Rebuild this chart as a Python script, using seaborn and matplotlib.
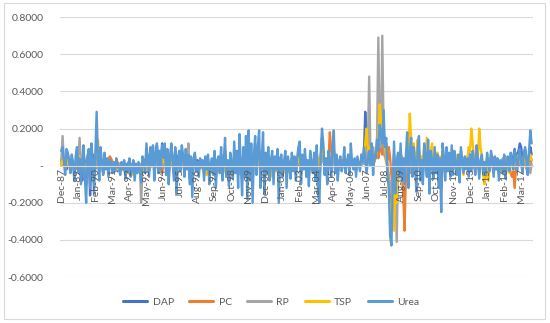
import numpy as np
import pandas as pd
import seaborn as sns
import matplotlib.pyplot as plt
from matplotlib.patches import Rectangle

# monthly changes, Dec-87 .. Nov-17 (one row = 12 months, Dec..Nov)
dap = [
    0.03, 0.05, 0.02, 0.04, -0.02, 0.06, 0.03, -0.03, 0.04, 0.02, -0.05, 0.01,
    0.05, 0.02, -0.04, 0.03, -0.08, 0.06, 0.02, -0.10, 0.04, 0.08, -0.16, 0.03,
    0.06, -0.05, 0.02, 0.10, 0.05, -0.03, 0.04, 0.01, -0.04, 0.03, 0.00, 0.02,
    -0.02, 0.01, 0.03, -0.02, 0.01, 0.00, 0.02, -0.03, 0.01, -0.02, 0.00, 0.01,
    0.02, -0.03, 0.00, 0.01, 0.03, -0.02, 0.00, 0.02, -0.04, 0.01, -0.02, 0.01,
    -0.01, -0.05, 0.02, 0.03, -0.02, 0.08, 0.05, -0.03, 0.07, 0.02, 0.10, -0.04,
    0.05, 0.11, 0.02, 0.07, 0.01, 0.12, 0.03, 0.10, -0.02, 0.06, -0.05, 0.03,
    0.10, 0.04, -0.04, 0.08, -0.08, 0.05, 0.06, -0.02, 0.09, 0.03, -0.03, 0.06,
    0.01, 0.04, -0.06, 0.03, -0.09, 0.02, 0.05, -0.01, 0.03, -0.03, 0.02, 0.00,
    0.02, -0.04, 0.03, 0.00, 0.04, -0.05, 0.01, 0.02, -0.03, 0.05, -0.06, 0.02,
    0.03, -0.02, 0.06, -0.04, 0.01, 0.08, -0.03, 0.02, -0.06, 0.04, 0.01, -0.03,
    0.06, -0.02, 0.04, -0.05, 0.08, 0.01, -0.07, 0.05, -0.03, 0.07, -0.08, 0.09,
    -0.03, 0.06, -0.09, 0.03, 0.07, -0.02, 0.05, 0.08, -0.05, 0.02, 0.07, -0.06,
    0.04, -0.02, 0.05, -0.04, 0.02, 0.04, -0.05, 0.03, 0.00, 0.05, -0.08, 0.02,
    0.03, -0.03, 0.01, 0.05, -0.05, 0.03, 0.01, -0.03, 0.04, -0.01, 0.03, -0.04,
    0.02, 0.05, 0.07, -0.04, 0.04, 0.00, 0.05, -0.03, 0.02, -0.05, 0.04, 0.01,
    -0.02, 0.04, -0.03, 0.07, -0.06, -0.08, 0.04, 0.15, 0.08, -0.02, 0.02, -0.04,
    0.05, 0.02, -0.03, 0.05, 0.09, -0.02, 0.03, -0.04, 0.01, 0.03, -0.01, 0.01,
    0.04, -0.02, 0.01, 0.03, -0.02, 0.05, 0.01, -0.01, 0.02, -0.03, 0.03, 0.01,
    0.00, 0.03, 0.02, 0.06, 0.29, 0.12, 0.05, 0.04, 0.02, 0.07, 0.03, 0.05,
    0.06, 0.09, 0.10, 0.14, 0.12, 0.10, 0.20, 0.08, 0.12, -0.02, -0.08, -0.20,
    -0.22, -0.08, 0.06, -0.10, 0.01, 0.05, -0.03, 0.08, -0.04, 0.03, -0.05, 0.04,
    0.09, -0.06, 0.04, 0.08, -0.03, 0.06, 0.01, -0.07, 0.05, 0.08, -0.04, 0.02,
    -0.05, 0.06, 0.03, -0.03, 0.07, -0.08, 0.04, 0.02, -0.04, 0.05, -0.02, 0.03,
    -0.06, 0.02, -0.12, 0.06, 0.03, -0.04, 0.05, -0.02, 0.04, -0.03, 0.06, -0.02,
    0.04, 0.01, -0.03, 0.03, -0.05, 0.05, 0.02, -0.02, 0.03, -0.01, 0.02, -0.03,
    0.03, -0.02, 0.04, 0.01, -0.03, 0.06, 0.02, -0.04, 0.02, 0.03, -0.02, 0.01,
    -0.03, 0.04, 0.00, -0.02, 0.04, 0.02, -0.03, 0.03, -0.01, 0.02, -0.04, 0.02,
    0.01, -0.02, 0.03, -0.04, 0.01, 0.03, -0.02, 0.04, 0.03, 0.05, 0.09, 0.04,
    0.06, 0.08, 0.12, 0.10, 0.03, 0.06, 0.09, 0.05, -0.02, 0.04, 0.10, 0.06,
]
pc = [
    0.01, 0.00, 0.02, -0.01, 0.01, 0.03, 0.00, -0.01, 0.02, 0.01, 0.00, -0.02,
    0.03, 0.05, 0.02, 0.00, -0.01, 0.02, 0.01, -0.02, 0.00, 0.01, -0.01, 0.02,
    0.00, 0.01, -0.02, 0.02, 0.01, 0.00, 0.03, 0.01, -0.01, 0.02, 0.00, 0.01,
    0.03, 0.05, 0.04, 0.02, 0.01, -0.01, 0.00, 0.02, 0.01, 0.00, -0.01, 0.01,
    0.00, 0.01, -0.01, 0.00, 0.02, 0.01, 0.00, -0.01, 0.01, 0.00, 0.01, 0.00,
    0.01, -0.02, 0.00, 0.01, 0.00, 0.02, 0.01, -0.01, 0.00, 0.01, 0.02, 0.00,
    -0.01, 0.01, 0.00, 0.02, -0.02, -0.04, 0.01, 0.00, 0.02, 0.01, -0.01, 0.00,
    0.01, 0.00, -0.01, 0.02, 0.01, 0.00, 0.01, -0.01, 0.00, 0.02, 0.01, 0.00,
    0.02, 0.01, 0.00, -0.01, 0.01, 0.03, 0.00, 0.01, -0.01, 0.00, 0.01, 0.02,
    0.00, -0.01, 0.01, 0.02, 0.00, 0.01, -0.02, 0.00, 0.01, 0.00, 0.02, 0.01,
    0.01, 0.00, 0.02, -0.01, 0.00, 0.01, 0.03, 0.00, -0.01, 0.01, 0.00, 0.02,
    0.00, 0.01, 0.00, 0.02, 0.01, -0.01, 0.00, 0.01, 0.02, 0.00, -0.01, 0.01,
    0.02, 0.00, 0.01, -0.01, 0.00, 0.01, 0.02, 0.00, 0.01, -0.01, 0.00, 0.01,
    0.00, 0.01, 0.02, 0.00, -0.02, 0.01, 0.00, 0.02, 0.01, 0.00, 0.01, -0.01,
    0.01, 0.00, -0.01, 0.01, 0.02, 0.00, 0.01, -0.01, 0.00, 0.02, 0.01, 0.00,
    0.00, 0.02, 0.01, 0.00, -0.01, 0.01, 0.03, 0.02, 0.00, 0.01, -0.01, 0.02,
    0.01, 0.03, 0.02, 0.00, 0.01, 0.04, 0.02, 0.05, 0.03, 0.01, 0.02, 0.00,
    0.04, 0.18, 0.08, 0.02, 0.05, 0.01, 0.03, 0.00, 0.02, 0.01, 0.03, 0.00,
    0.02, 0.01, 0.03, 0.00, 0.01, 0.02, 0.00, 0.01, 0.03, 0.01, 0.02, 0.00,
    0.01, 0.03, 0.02, 0.01, 0.04, 0.02, 0.03, 0.05, 0.02, 0.04, 0.03, 0.02,
    0.05, 0.07, 0.04, 0.08, 0.10, 0.06, 0.12, 0.05, 0.08, 0.03, 0.10, 0.04,
    -0.05, -0.10, -0.06, -0.12, -0.04, -0.08, -0.03, 0.02, -0.06, -0.15, -0.35, -0.05,
    -0.08, 0.02, -0.04, 0.05, -0.02, 0.03, 0.01, -0.03, 0.02, 0.04, 0.00, 0.01,
    -0.02, 0.03, 0.01, -0.01, 0.02, 0.00, 0.01, 0.03, -0.02, 0.01, 0.00, 0.02,
    -0.01, 0.02, 0.00, 0.01, -0.02, 0.01, 0.03, 0.00, 0.02, -0.01, 0.01, 0.00,
    0.02, 0.00, -0.01, 0.01, 0.00, 0.02, 0.01, -0.02, 0.00, 0.01, 0.03, 0.00,
    0.01, -0.01, 0.02, 0.00, 0.01, 0.03, 0.00, -0.01, 0.02, 0.00, 0.01, -0.02,
    0.00, 0.02, 0.01, -0.01, 0.03, 0.05, 0.02, 0.00, -0.01, 0.01, 0.00, 0.02,
    0.00, 0.01, -0.01, 0.02, 0.00, -0.02, 0.01, -0.04, -0.06, -0.03, -0.12, -0.02,
    0.02, 0.00, 0.01, 0.03, 0.02, 0.00, 0.01, 0.02, 0.04, 0.03, 0.01, 0.03,
]
rp = [
    0.02, 0.16, 0.03, -0.02, 0.01, 0.00, 0.02, -0.01, 0.00, 0.01, -0.02, 0.01,
    0.00, 0.02, 0.15, 0.01, -0.03, 0.00, 0.01, -0.02, 0.00, 0.02, -0.01, 0.00,
    0.01, 0.00, -0.01, 0.02, 0.00, 0.01, 0.00, -0.01, 0.02, 0.00, 0.01, 0.00,
    0.00, 0.01, 0.00, -0.01, 0.00, 0.01, 0.00, 0.00, -0.01, 0.01, 0.00, 0.00,
    0.01, 0.00, -0.01, 0.00, 0.01, 0.00, 0.00, 0.01, -0.01, 0.00, 0.00, 0.01,
    0.00, -0.20, 0.00, 0.01, 0.00, 0.00, 0.01, 0.00, -0.01, 0.00, 0.01, 0.00,
    0.00, 0.01, 0.00, 0.00, -0.01, 0.00, 0.01, 0.00, 0.00, 0.02, 0.00, 0.00,
    0.01, 0.00, 0.00, 0.01, 0.00, -0.01, 0.00, 0.01, 0.00, 0.00, 0.01, 0.00,
    0.00, 0.12, -0.07, 0.00, 0.01, 0.00, 0.00, -0.01, 0.00, 0.01, 0.00, 0.00,
    0.01, 0.00, 0.03, -0.02, 0.00, 0.01, 0.00, 0.00, -0.01, 0.00, 0.01, 0.00,
    0.00, 0.01, 0.00, 0.00, -0.03, 0.02, 0.00, 0.01, 0.00, -0.01, 0.00, 0.00,
    0.00, 0.01, 0.00, -0.01, 0.00, 0.00, 0.01, 0.00, 0.00, -0.01, 0.00, 0.01,
    0.00, 0.00, 0.01, 0.00, -0.01, 0.00, 0.00, 0.01, 0.00, 0.00, 0.02, 0.00,
    0.01, 0.00, 0.00, -0.01, 0.00, 0.01, 0.00, 0.00, 0.01, 0.00, -0.01, 0.00,
    0.00, 0.01, 0.00, 0.00, 0.01, 0.00, -0.01, 0.00, 0.00, 0.01, 0.00, 0.00,
    0.01, 0.00, 0.02, 0.00, 0.00, 0.01, 0.00, -0.01, 0.00, 0.00, 0.01, 0.00,
    0.00, 0.01, 0.00, 0.02, 0.01, 0.00, 0.03, 0.05, 0.02, 0.00, 0.01, 0.00,
    0.02, 0.05, 0.03, 0.01, 0.04, 0.02, 0.00, 0.01, 0.03, 0.00, 0.02, 0.01,
    0.00, 0.02, 0.01, 0.00, 0.03, 0.01, 0.00, 0.02, 0.01, 0.00, 0.01, 0.02,
    0.01, 0.00, 0.02, 0.01, 0.03, 0.05, 0.10, 0.48, 0.05, 0.02, 0.10, 0.04,
    0.06, 0.15, 0.69, 0.20, 0.10, 0.70, 0.18, 0.05, 0.02, 0.00, -0.05, -0.10,
    -0.15, -0.08, -0.20, -0.05, -0.41, -0.02, 0.03, -0.03, 0.05, -0.02, 0.01, -0.04,
    0.03, 0.08, 0.02, -0.03, 0.05, 0.01, -0.02, 0.04, 0.00, 0.02, -0.01, 0.03,
    0.01, 0.04, 0.02, -0.02, 0.03, 0.00, 0.02, 0.05, -0.01, 0.02, 0.00, 0.03,
    0.00, 0.02, -0.01, 0.03, 0.01, 0.00, 0.02, -0.02, 0.01, 0.00, 0.03, 0.01,
    0.02, 0.00, 0.01, 0.03, -0.01, 0.02, 0.00, 0.01, 0.02, 0.00, 0.04, 0.08,
    0.05, 0.03, 0.02, 0.00, 0.01, 0.03, 0.02, 0.00, 0.01, 0.03, 0.00, -0.02,
    0.00, 0.02, 0.04, 0.01, 0.06, 0.03, 0.01, 0.02, 0.00, 0.03, 0.01, 0.02,
    0.02, 0.04, 0.01, 0.05, 0.03, 0.00, 0.02, 0.04, 0.01, 0.03, 0.02, 0.05,
    0.03, 0.01, 0.04, 0.02, -0.03, 0.01, 0.03, -0.02, 0.00, 0.02, -0.04, 0.01,
]
tsp = [
    0.00, 0.03, 0.01, -0.02, 0.04, 0.02, 0.00, -0.03, 0.02, 0.01, -0.01, 0.02,
    0.04, 0.01, 0.05, -0.02, 0.00, 0.03, -0.01, -0.04, 0.02, 0.05, -0.03, 0.06,
    0.02, -0.05, 0.04, 0.08, 0.14, 0.03, 0.06, 0.01, -0.02, 0.03, 0.00, 0.02,
    -0.01, 0.02, 0.00, 0.01, -0.02, 0.00, 0.01, -0.02, 0.00, -0.03, -0.01, -0.02,
    -0.03, -0.02, -0.04, -0.03, -0.02, -0.04, -0.03, -0.05, -0.04, -0.03, -0.04, -0.02,
    -0.03, -0.06, -0.02, -0.01, -0.03, 0.00, -0.01, -0.02, 0.01, 0.00, 0.02, -0.01,
    0.01, 0.03, 0.00, 0.02, 0.01, 0.04, 0.02, 0.03, 0.00, 0.02, -0.02, 0.01,
    0.03, 0.01, 0.00, 0.02, -0.02, 0.01, 0.03, 0.00, 0.02, 0.01, -0.01, 0.02,
    0.00, 0.02, -0.03, 0.01, -0.04, 0.00, 0.02, -0.01, 0.01, -0.02, 0.00, 0.01,
    -0.02, -0.04, -0.01, -0.05, -0.03, -0.02, -0.04, 0.00, -0.03, 0.02, -0.04, 0.01,
    -0.02, -0.04, 0.00, -0.05, -0.03, 0.02, -0.04, -0.01, -0.06, 0.01, -0.02, -0.03,
    0.02, -0.01, 0.03, -0.03, 0.04, 0.00, -0.05, 0.03, -0.02, 0.04, -0.04, 0.03,
    -0.02, 0.03, -0.05, 0.01, 0.04, -0.01, 0.02, 0.05, -0.03, 0.00, 0.04, -0.03,
    0.01, -0.03, -0.05, -0.02, -0.06, -0.03, -0.04, -0.01, -0.03, 0.00, -0.05, -0.02,
    -0.03, -0.05, -0.02, 0.00, -0.04, -0.01, -0.03, -0.05, 0.01, -0.02, 0.02, -0.03,
    0.01, 0.03, 0.05, 0.00, 0.02, -0.01, 0.04, 0.01, 0.02, -0.02, 0.03, 0.01,
    0.00, 0.04, 0.02, 0.06, 0.03, -0.02, 0.05, 0.10, 0.06, 0.02, 0.04, 0.01,
    0.03, 0.06, 0.02, 0.04, 0.08, 0.01, 0.03, -0.01, 0.02, 0.03, 0.00, 0.01,
    0.02, 0.00, 0.01, 0.02, -0.01, 0.03, 0.01, 0.00, 0.02, -0.01, 0.02, 0.01,
    0.00, 0.02, 0.03, 0.05, 0.12, 0.20, 0.08, 0.10, 0.04, 0.06, 0.02, 0.05,
    0.04, 0.08, 0.12, 0.33, 0.25, 0.15, 0.18, 0.10, 0.06, -0.05, -0.12, -0.25,
    -0.30, -0.15, -0.35, -0.10, -0.20, 0.03, -0.05, 0.08, 0.02, -0.06, 0.04, -0.02,
    0.10, 0.03, 0.28, 0.15, 0.05, 0.12, -0.04, 0.06, 0.14, 0.08, -0.03, 0.05,
    0.02, 0.10, 0.04, 0.15, 0.06, -0.02, 0.08, 0.12, 0.00, 0.05, 0.02, 0.07,
    -0.03, 0.05, 0.00, 0.08, 0.03, -0.04, 0.06, 0.01, 0.04, -0.02, 0.05, 0.00,
    0.03, 0.06, -0.02, 0.04, 0.00, 0.08, 0.02, -0.05, 0.03, 0.01, 0.04, 0.10,
    0.08, 0.20, 0.12, 0.05, -0.03, 0.08, 0.04, 0.20, 0.10, 0.05, -0.04, -0.10,
    -0.06, 0.03, -0.08, 0.02, 0.05, 0.00, -0.04, 0.03, -0.02, 0.01, -0.05, 0.02,
    0.01, -0.03, 0.02, -0.05, -0.02, 0.03, -0.04, 0.04, 0.00, -0.02, 0.05, 0.02,
    0.03, 0.06, 0.04, 0.01, -0.02, 0.05, 0.03, 0.02, -0.03, 0.04, 0.06, 0.03,
]
urea = [
    0.08, 0.10, 0.03, -0.05, 0.09, 0.07, 0.02, -0.04, 0.06, 0.01, -0.08, 0.05,
    0.10, -0.03, 0.04, -0.10, 0.02, 0.11, -0.06, -0.20, 0.05, 0.09, -0.12, 0.12,
    0.03, -0.15, 0.06, 0.29, 0.04, -0.08, 0.10, 0.02, -0.05, 0.07, -0.02, 0.04,
    -0.06, 0.03, 0.01, -0.04, 0.02, -0.03, 0.04, -0.01, 0.00, -0.05, 0.02, -0.02,
    0.03, -0.07, 0.01, -0.03, 0.04, -0.06, -0.02, 0.03, -0.08, 0.01, -0.04, 0.02,
    -0.03, -0.09, 0.05, 0.02, -0.04, 0.12, 0.03, -0.06, 0.10, 0.00, 0.11, -0.08,
    0.06, 0.12, -0.04, 0.08, -0.02, 0.11, 0.05, 0.12, -0.05, 0.09, -0.10, 0.04,
    0.12, 0.02, -0.08, 0.10, -0.15, 0.03, 0.08, -0.03, 0.11, 0.05, -0.06, 0.09,
    -0.02, 0.06, -0.10, 0.05, -0.17, 0.04, 0.07, -0.03, 0.02, -0.06, 0.04, -0.01,
    0.03, -0.08, 0.05, -0.02, 0.06, -0.10, 0.01, 0.04, -0.05, 0.08, -0.12, 0.03,
    0.05, -0.04, 0.10, -0.08, 0.02, 0.15, -0.06, 0.03, -0.11, 0.07, 0.01, -0.07,
    0.13, -0.04, 0.08, -0.12, 0.17, 0.02, -0.16, 0.10, -0.06, 0.16, -0.18, 0.19,
    -0.08, 0.12, -0.20, 0.06, 0.16, -0.05, 0.10, 0.19, -0.12, 0.04, 0.18, -0.15,
    0.07, -0.04, 0.10, -0.08, 0.03, 0.08, -0.10, 0.05, -0.02, 0.09, -0.20, 0.04,
    0.06, -0.06, 0.02, 0.08, -0.12, 0.05, 0.00, -0.07, 0.07, -0.03, 0.05, -0.08,
    0.04, 0.10, 0.13, -0.10, 0.06, -0.02, 0.09, -0.06, 0.03, -0.11, 0.08, 0.01,
    -0.04, 0.07, -0.08, 0.11, -0.15, -0.20, 0.06, 0.20, 0.12, -0.05, 0.04, -0.10,
    0.08, 0.03, -0.06, 0.10, 0.19, -0.04, 0.06, -0.08, 0.02, 0.05, -0.03, 0.00,
    0.10, -0.04, 0.02, 0.06, -0.05, 0.12, 0.01, -0.02, 0.04, -0.06, 0.05, 0.01,
    -0.03, 0.06, 0.02, 0.10, 0.04, -0.04, 0.02, 0.08, 0.00, 0.12, -0.05, 0.06,
    0.04, 0.14, 0.08, 0.22, 0.18, 0.12, 0.30, 0.10, 0.15, -0.05, -0.12, -0.38,
    -0.43, -0.10, 0.13, -0.15, 0.02, 0.07, -0.06, 0.12, -0.08, 0.04, -0.10, 0.05,
    0.18, -0.12, 0.07, 0.15, -0.06, 0.10, 0.02, -0.14, 0.09, 0.16, -0.08, 0.03,
    -0.10, 0.12, 0.05, -0.06, 0.14, -0.15, 0.08, 0.03, -0.07, 0.10, -0.04, 0.06,
    -0.12, 0.04, -0.25, 0.12, 0.05, -0.08, 0.10, -0.03, 0.07, -0.06, 0.11, -0.05,
    0.08, 0.02, -0.05, 0.06, -0.09, 0.10, 0.03, -0.04, 0.05, -0.02, 0.04, -0.06,
    0.06, -0.03, 0.08, 0.02, -0.05, 0.11, 0.04, -0.07, 0.03, 0.06, -0.04, 0.02,
    -0.05, 0.07, 0.01, -0.03, 0.08, 0.03, -0.06, 0.05, -0.02, 0.04, -0.08, 0.03,
    0.02, -0.04, 0.06, -0.07, 0.01, 0.05, -0.03, 0.07, 0.02, -0.02, 0.08, 0.04,
    -0.03, 0.05, 0.09, 0.02, -0.04, 0.06, 0.10, 0.03, -0.05, 0.08, 0.19, 0.12,
]

series_names = ['DAP', 'PC', 'RP', 'TSP', 'Urea']
colors = ['#4472C4', '#ED7D31', '#A5A5A5', '#FFC000', '#5B9BD5']
months = pd.date_range('1987-12-01', periods=len(urea), freq='MS')

df = pd.DataFrame({'DAP': dap, 'PC': pc, 'RP': rp, 'TSP': tsp, 'Urea': urea})
df['idx'] = np.arange(len(df))
long = df.melt(id_vars='idx', var_name='series', value_name='value')

sns.set_style('white')
plt.rcParams['font.family'] = ['Lato', 'DejaVu Sans']
txt = '#595959'

fig = plt.figure(figsize=(5.5, 3.23), dpi=100)
ax = fig.add_axes([0.109, 0.142, 0.86, 0.805])

sns.lineplot(data=long, x='idx', y='value', hue='series', hue_order=series_names,
             palette=colors, linewidth=1.7, ax=ax)

ax.set_ylim(-0.6, 0.8)
ax.set_xlim(-1, len(urea))
yt = [-0.6, -0.4, -0.2, 0.0, 0.2, 0.4, 0.6, 0.8]
ax.set_yticks(yt)
ax.set_yticklabels(['-' if v == 0 else f'{v:.4f}' for v in yt])
ax.yaxis.grid(True, color='#D9D9D9', linewidth=0.8)
ax.set_axisbelow(True)

tick_pos = list(range(0, len(urea), 13))
ax.set_xticks(tick_pos)
ax.set_xticklabels([months[i].strftime('%b-%y') for i in tick_pos])
ax.tick_params(axis='both', length=0, labelsize=7.5, labelcolor=txt)
ax.tick_params(axis='x', labelrotation=90, pad=2)
ax.tick_params(axis='y', pad=12)
# date labels sit on top of the lines, like Excel does
ax.xaxis.set_zorder(3)

for s in ['top', 'right', 'left']:
    ax.spines[s].set_visible(False)
ax.spines['bottom'].set_position(('data', 0))
ax.spines['bottom'].set_color('#D9D9D9')
ax.set_xlabel('')
ax.set_ylabel('')

sns.move_legend(ax, 'center', bbox_to_anchor=(0.493, 0.065), bbox_transform=fig.transFigure,
                ncol=5, frameon=False, title=None, fontsize=7.5, handlelength=2.3,
                handletextpad=0.5, columnspacing=1.5, labelcolor=txt)
for line in ax.get_legend().get_lines():
    line.set_linewidth(2.2)

fig.patches.append(Rectangle((0.008, 0.012), 0.983, 0.978, transform=fig.transFigure,
                             fill=False, edgecolor='#D9D9D9', linewidth=0.8))

fig.savefig('out.png', dpi=100)
